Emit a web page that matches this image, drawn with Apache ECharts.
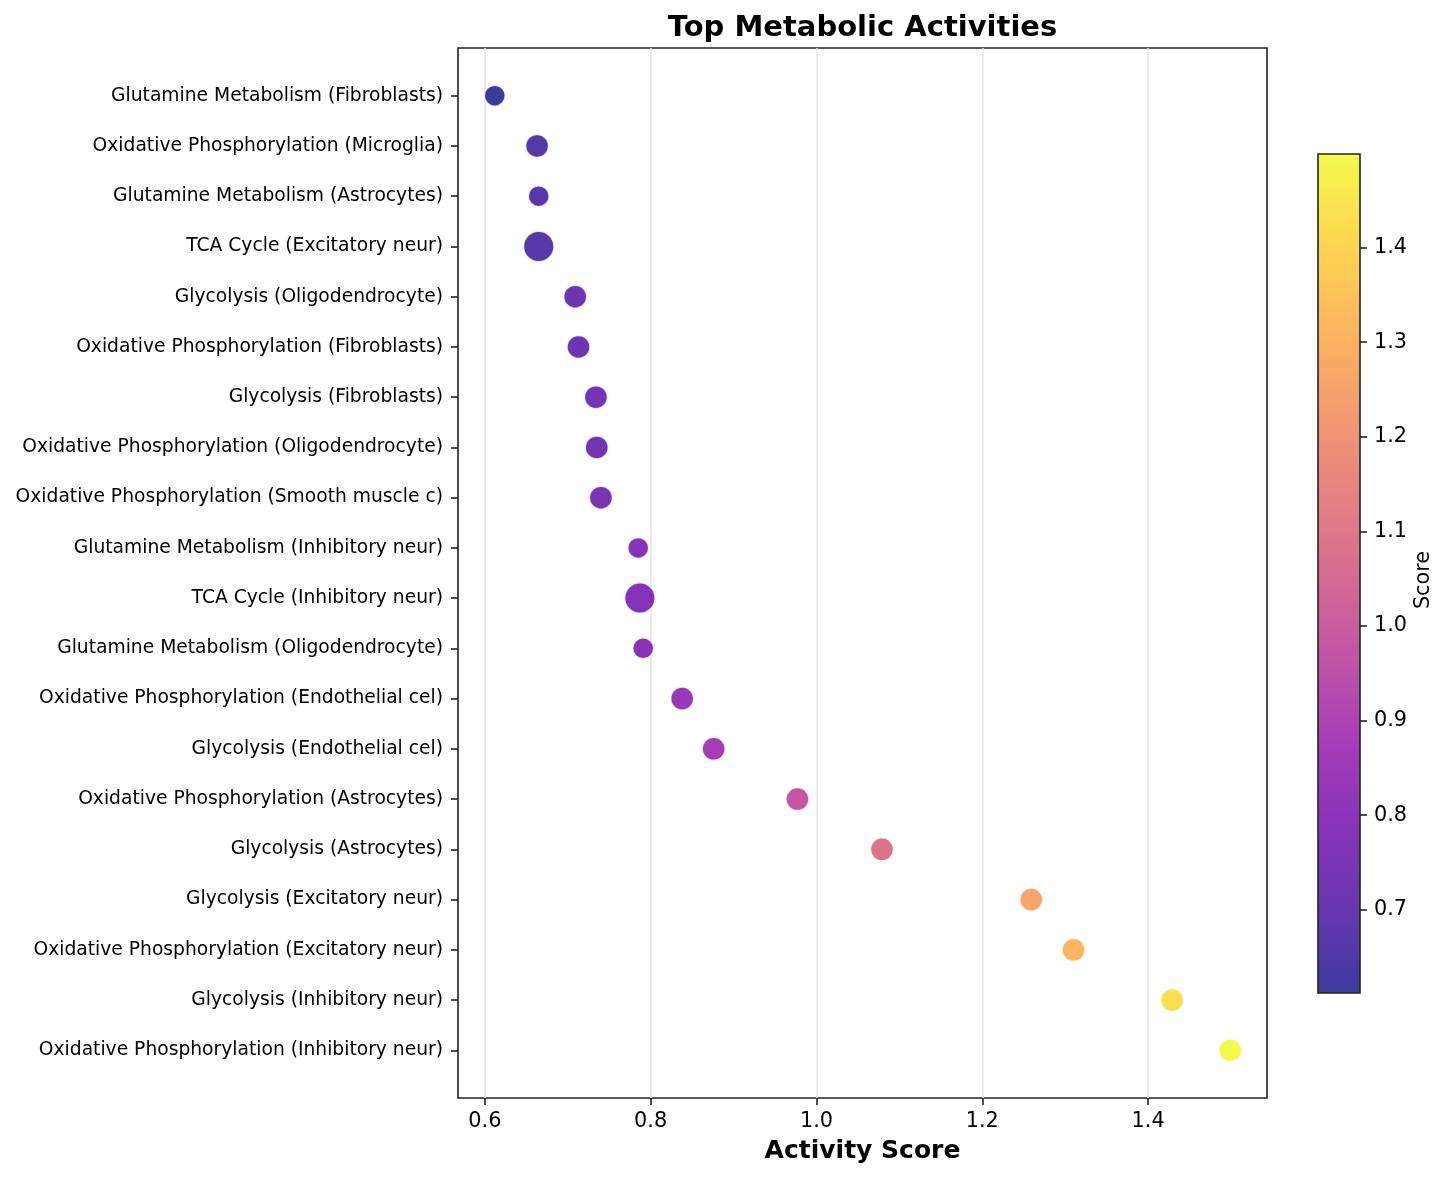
<!DOCTYPE html>
<html><head><meta charset="utf-8">
<script src="https://cdn.jsdelivr.net/npm/echarts@6/dist/echarts.min.js"></script>
<style>html,body{margin:0;padding:0;background:#fff}#c{width:1450px;height:1180px}</style>
</head><body><div id="c"></div>
<script>
// ---- data (top to bottom as shown) ----
const categories = [
  'Glutamine Metabolism (Fibroblasts)',
  'Oxidative Phosphorylation (Microglia)',
  'Glutamine Metabolism (Astrocytes)',
  'TCA Cycle (Excitatory neur)',
  'Glycolysis (Oligodendrocyte)',
  'Oxidative Phosphorylation (Fibroblasts)',
  'Glycolysis (Fibroblasts)',
  'Oxidative Phosphorylation (Oligodendrocyte)',
  'Oxidative Phosphorylation (Smooth muscle c)',
  'Glutamine Metabolism (Inhibitory neur)',
  'TCA Cycle (Inhibitory neur)',
  'Glutamine Metabolism (Oligodendrocyte)',
  'Oxidative Phosphorylation (Endothelial cel)',
  'Glycolysis (Endothelial cel)',
  'Oxidative Phosphorylation (Astrocytes)',
  'Glycolysis (Astrocytes)',
  'Glycolysis (Excitatory neur)',
  'Oxidative Phosphorylation (Excitatory neur)',
  'Glycolysis (Inhibitory neur)',
  'Oxidative Phosphorylation (Inhibitory neur)'
];
const activityScores = [
  0.612, 0.663, 0.665, 0.665, 0.709, 0.713, 0.734, 0.735, 0.740, 0.785,
  0.787, 0.791, 0.838, 0.876, 0.977, 1.079, 1.259, 1.310, 1.429, 1.499
];
const xTickValues = [0.6, 0.8, 1.0, 1.2, 1.4];
const colorbarTickValues = [0.7, 0.8, 0.9, 1.0, 1.1, 1.2, 1.3, 1.4];
const plasmaColors = ['#0d0887','#41049d','#6a00a8','#8f0da4','#b12a90','#cc4778','#e16462','#f2844b','#fca636','#fcce25','#f0f921'];

// ---- derived ----
const FONT = 'DejaVu Sans';
const sMin = Math.min(...activityScores), sMax = Math.max(...activityScores);
const sPad = (sMax - sMin) * 0.05;
const n = categories.length;
const yPad = (n - 1) * 0.05;

function markerSize(name) {
  if (name.indexOf('TCA') === 0) return 30.5;
  if (name.indexOf('Glutamine') === 0) return 21;
  return 23;
}
function rgba(hex, a) {
  const v = parseInt(hex.slice(1), 16);
  return 'rgba(' + ((v >> 16) & 255) + ',' + ((v >> 8) & 255) + ',' + (v & 255) + ',' + a + ')';
}
const scatterData = activityScores.map((v, i) => [v, i, categories[i]]);
const yTickValues = categories.map((c, i) => i);

const chart = echarts.init(document.getElementById('c'), null, {renderer: 'canvas'});
chart.setOption({
  animation: false,
  backgroundColor: '#ffffff',
  textStyle: {fontFamily: FONT},
  grid: [
    {left: 458, right: 183, top: 48, bottom: 82, show: true, borderColor: '#222', borderWidth: 1.6,
     backgroundColor: 'transparent', outerBoundsMode: 'none', containLabel: false},
    {left: 1318, width: 42, top: 154, height: 839, show: true, borderColor: '#222', borderWidth: 1.6,
     outerBoundsMode: 'none', containLabel: false,
     backgroundColor: {type: 'linear', x: 0, y: 1, x2: 0, y2: 0,
       colorStops: plasmaColors.map((c, i) => ({offset: i / (plasmaColors.length - 1), color: rgba(c, 0.8)}))}}
  ],
  xAxis: [
    {type: 'value', gridIndex: 0, position: 'bottom', min: sMin - sPad, max: sMax + sPad,
     axisLine: {show: false, onZero: false},
     axisTick: {show: true, inside: false, length: 7, lineStyle: {color: '#222', width: 1.6}, customValues: xTickValues},
     axisLabel: {show: true, margin: 13, fontSize: 20.8, color: '#000', fontFamily: FONT,
       customValues: xTickValues, formatter: v => Number(v).toFixed(1)},
     splitLine: {show: true, lineStyle: {color: '#e6e6e6', width: 1.6}},
     name: 'Activity Score', nameLocation: 'middle', nameGap: 41,
     nameTextStyle: {fontSize: 25, fontWeight: 'bold', color: '#000', fontFamily: FONT}},
    {type: 'value', gridIndex: 1, min: 0, max: 1, show: false}
  ],
  yAxis: [
    {type: 'value', gridIndex: 0, position: 'left', inverse: true, min: -yPad, max: n - 1 + yPad,
     axisLine: {show: false, onZero: false},
     axisTick: {show: true, inside: false, length: 7, lineStyle: {color: '#222', width: 1.6},
       customValues: yTickValues},
     axisLabel: {show: true, margin: 15, fontSize: 18.7, color: '#000', fontFamily: FONT,
       customValues: yTickValues, formatter: v => categories[Math.round(v)] || ''},
     splitLine: {show: false}},
    {type: 'value', gridIndex: 1, position: 'right', min: sMin, max: sMax,
     axisLine: {show: false, onZero: false},
     axisTick: {show: true, inside: false, length: 7, lineStyle: {color: '#222', width: 1.6}, customValues: colorbarTickValues},
     axisLabel: {show: true, margin: 14, fontSize: 20.8, color: '#000', fontFamily: FONT,
       customValues: colorbarTickValues, formatter: v => Number(v).toFixed(1)},
     splitLine: {show: false}}
  ],
  visualMap: {
    type: 'continuous', show: false, seriesIndex: 0, dimension: 0,
    min: sMin, max: sMax, inRange: {color: plasmaColors}
  },
  series: [{
    type: 'scatter', xAxisIndex: 0, yAxisIndex: 0,
    data: scatterData,
    symbol: 'circle',
    symbolSize: (val) => markerSize(val[2]),
    itemStyle: {opacity: 0.8, borderColor: '#ffffff', borderWidth: 1.5},
    emphasis: {disabled: true}
  }],
  graphic: [
    {type: 'text', x: 862.5, y: 28, style: {text: 'Top Metabolic Activities', font: 'bold 29px "DejaVu Sans"',
      fill: '#000', textAlign: 'center', textVerticalAlign: 'middle'}},
    {type: 'text', x: 1424, y: 580, rotation: Math.PI / 2, style: {text: 'Score', font: '20.8px "DejaVu Sans"',
      fill: '#000', textAlign: 'center', textVerticalAlign: 'middle'}}
  ]
});
</script></body></html>
